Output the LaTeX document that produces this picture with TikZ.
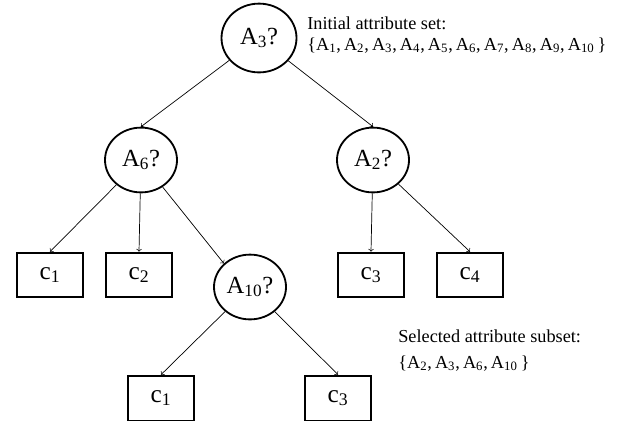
\documentclass[tikz,border=0pt]{standalone}
\usepackage{fontspec}
\setmainfont{Liberation Serif}
\usetikzlibrary{shapes.geometric}

\begin{document}
\begin{tikzpicture}[
  test/.style={draw, ellipse, line width=1.3pt, inner sep=0pt,
    minimum width=1.8cm, minimum height=1.62cm, font=\fontsize{17.5}{20}\selectfont},
  leaf/.style={draw, rectangle, line width=1.3pt, inner sep=0pt,
    minimum width=1.65cm, minimum height=1.12cm, font=\fontsize{18}{20}\selectfont},
  note/.style={anchor=base west, inner sep=0pt, font=\fontsize{13}{16}\selectfont},
  setnote/.style={note, execute at begin node={\spaceskip=0.17em}}]

\useasboundingbox (0,0) rectangle (15.825,-10.55);

% decision nodes
\node [test, minimum width=1.875cm, minimum height=1.72cm] (a3) at (6.475,-0.95) {A\textsubscript{3}?};
\node [test] (a6)  at (3.525,-4.0)  {A\textsubscript{6}?};
\node [test] (a2)  at (9.325,-4.0)  {A\textsubscript{2}?};
\node [test] (a10) at (6.25,-7.175) {A\textsubscript{10}?};

% class leaves
\node [leaf] (c1)  at (1.25,-6.875)  {c\textsubscript{1}};
\node [leaf] (c2)  at (3.475,-6.875) {c\textsubscript{2}};
\node [leaf] (c3)  at (9.275,-6.875) {c\textsubscript{3}};
\node [leaf] (c4)  at (11.75,-6.875) {c\textsubscript{4}};
\node [leaf] (c1b) at (4.025,-9.95)  {c\textsubscript{1}};
\node [leaf] (c3b) at (8.45,-9.95)   {c\textsubscript{3}};

\node [note] (init)  at (7.675,-0.725) {Initial attribute set:};
\node [setnote] (initset) at (7.675,-1.25)
  {\{A\textsubscript{1}, A\textsubscript{2}, A\textsubscript{3}, A\textsubscript{4}, A\textsubscript{5}, A\textsubscript{6}, A\textsubscript{7}, A\textsubscript{8}, A\textsubscript{9}, A\textsubscript{10} \}};
\node [note] (sel)  at (9.95,-8.55) {Selected attribute subset:};
\node [setnote] (selset) at (9.95,-9.2)
  {\{A\textsubscript{2}, A\textsubscript{3}, A\textsubscript{6}, A\textsubscript{10} \}};

\begin{scope}[line width=0.5pt,->]
\draw (a3) -- (a6.north);
\draw (a3) -- (a2.north);
\draw (a6) -- (c1.north);
\draw (a6) -- (c2.north);
\draw (a6) -- (a10.north west);
\draw (a2) -- (c3.north);
\draw (a2) -- (c4.north);
\draw (a10) -- (c1b.north);
\draw (a10) -- (c3b.north);
\end{scope}

\end{tikzpicture}
\end{document}
